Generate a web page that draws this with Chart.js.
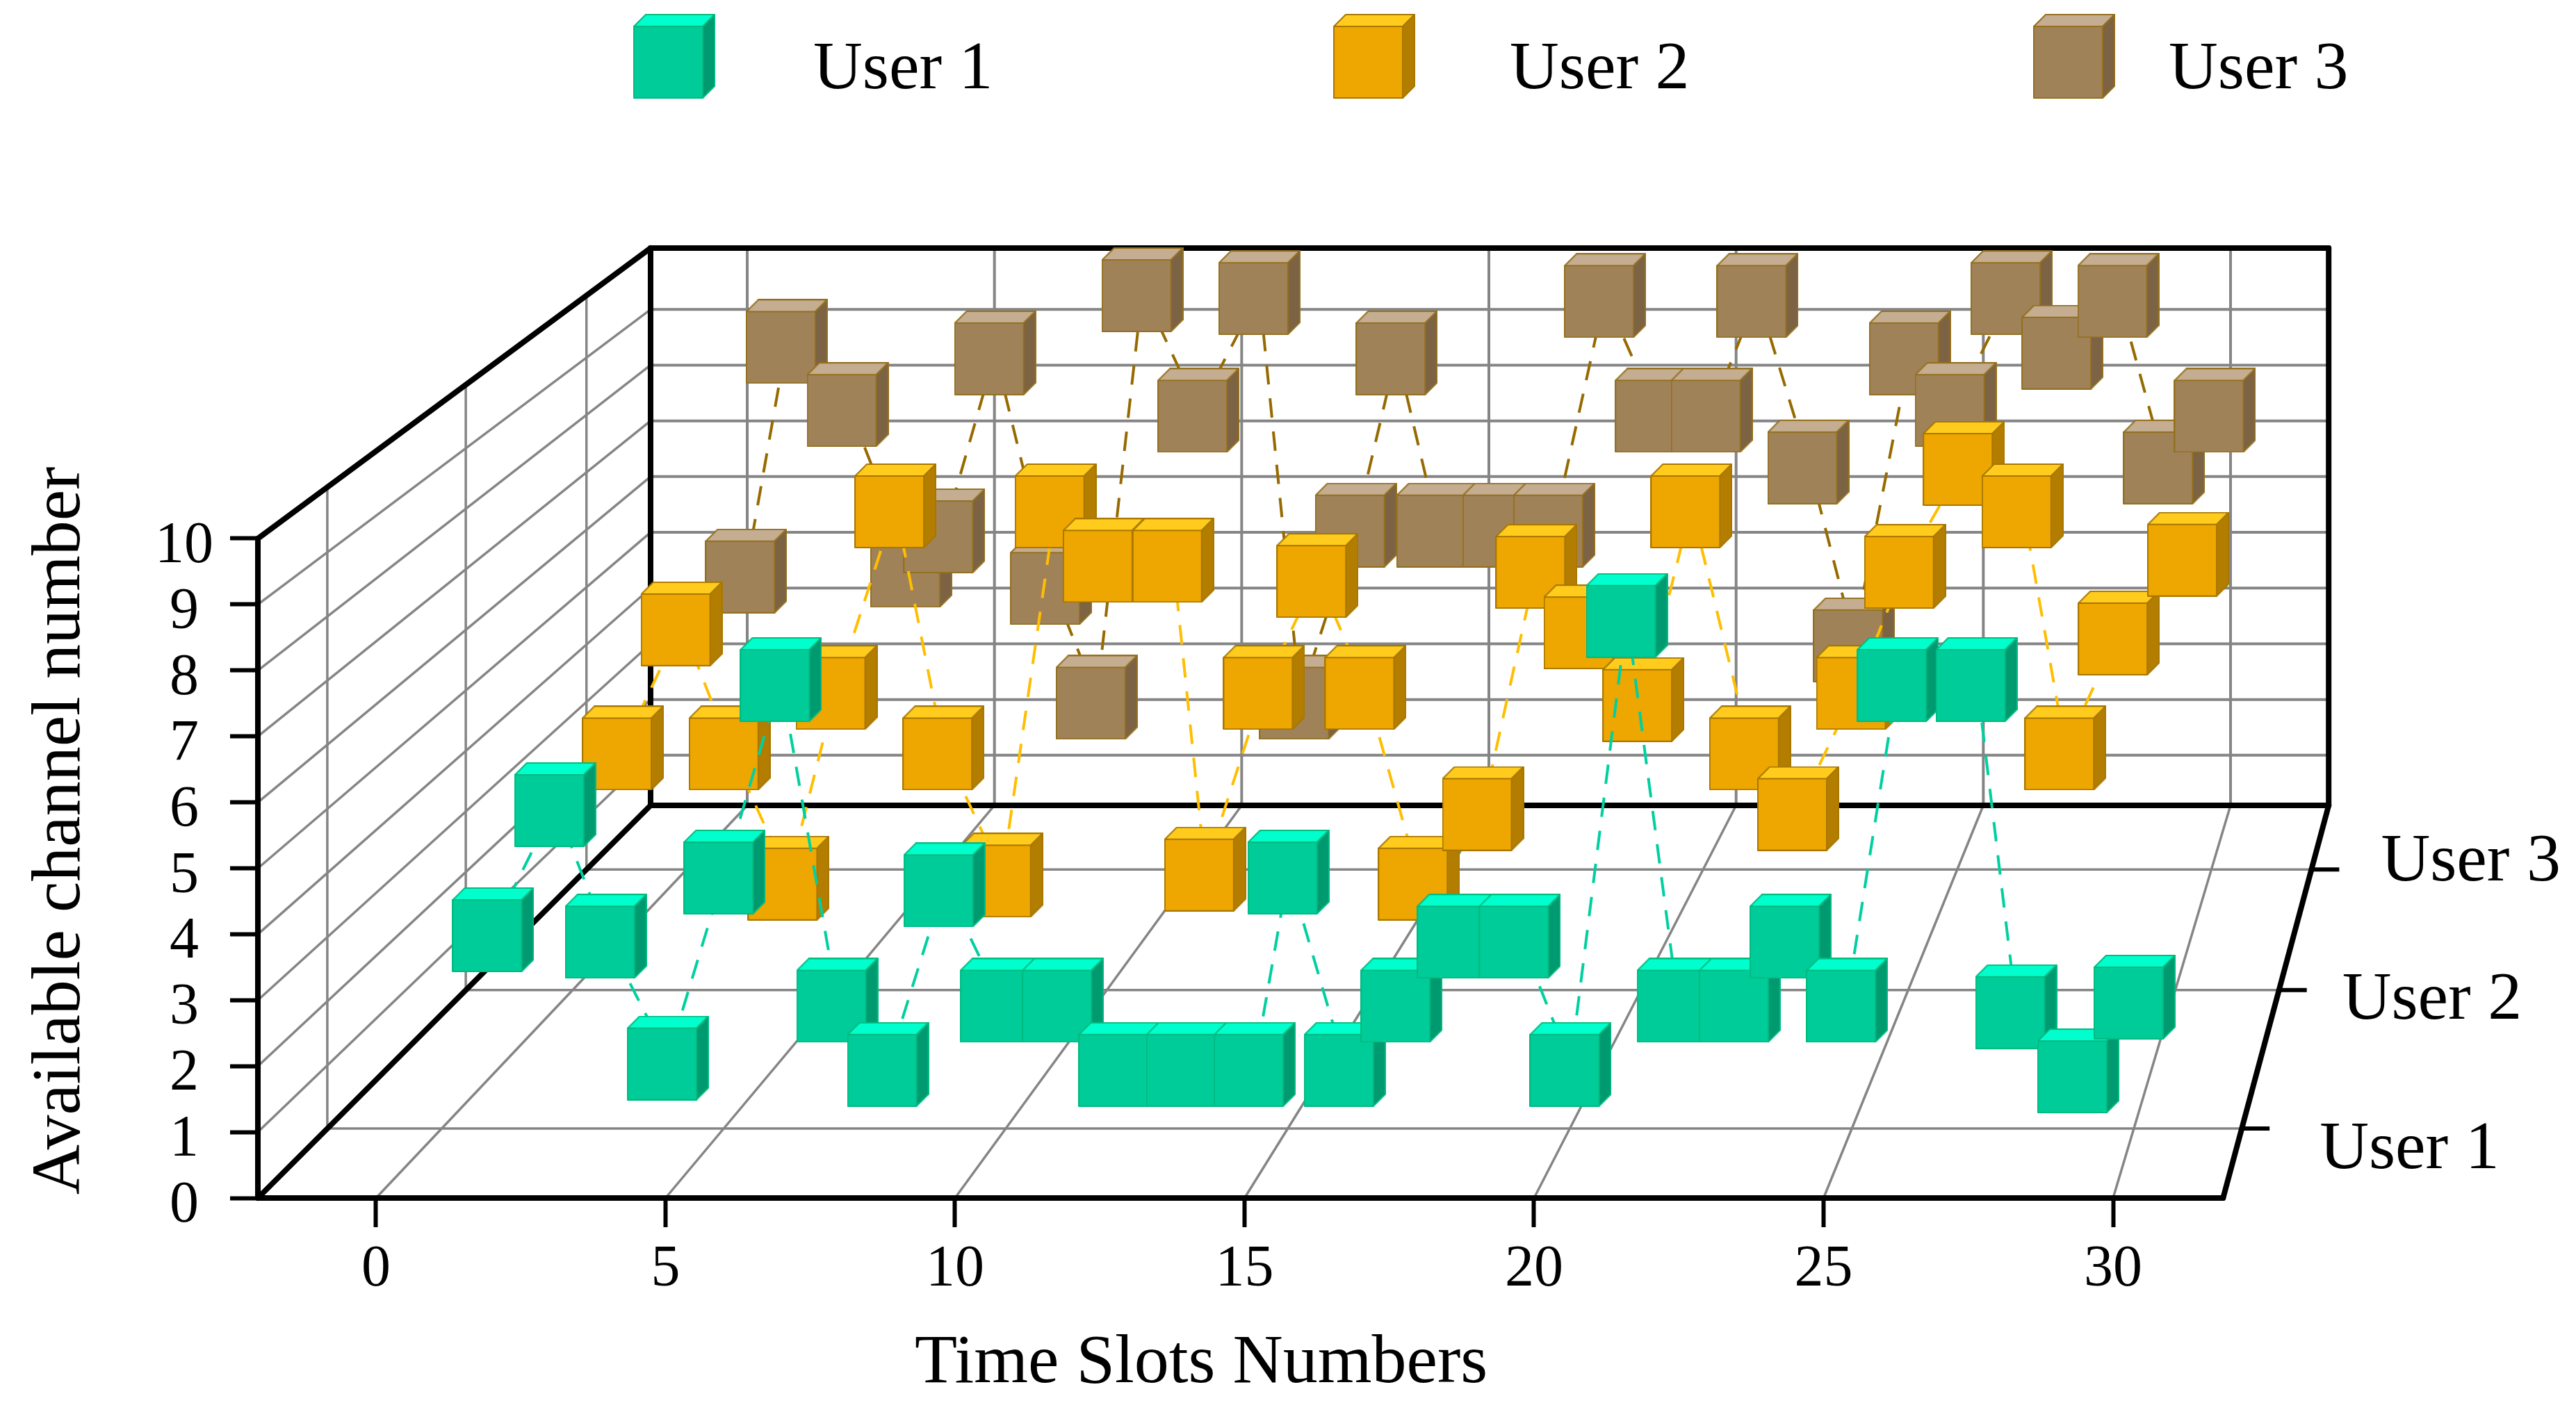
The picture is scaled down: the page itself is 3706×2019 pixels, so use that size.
<!DOCTYPE html>
<html>
<head>
<meta charset="utf-8">
<title>Channel allocation</title>
<script src="https://cdn.jsdelivr.net/npm/chart.js@4"></script>
<style>
  html, body { margin: 0; padding: 0; background: #fff; }
  canvas { display: block; }
</style>
</head>
<body>
<canvas id="grafico" width="3706" height="2019"></canvas>
<script>
const userNames = ["User 1", "User 2", "User 3"];
const xTicks = [0, 5, 10, 15, 20, 25, 30];
const yTicks = [0, 1, 2, 3, 4, 5, 6, 7, 8, 9, 10];

// depth of each user along the third axis (0 = front, 1 = back)
const userDepth = [0.155, 0.49, 0.814];

const slotsUser1 = [0.9, 2, 2.9, 4, 5, 6, 7, 7.9, 8.9, 9.9, 11, 12, 13.2, 14.4, 15, 16, 17, 18, 19.1, 20, 21, 21.9, 23, 23.9, 24.9, 25.8, 27.2, 27.9, 29, 30];
const channelsUser1 = [3.1, 5.05, 3, 1.1, 4, 7, 2, 1, 3.8, 2, 2, 1, 1, 1, 4, 1, 2, 3, 3, 1, 8, 2, 2, 3, 2, 7, 7, 1.9, 0.9, 2.05];

const slotsUser2 = [0.9, 2, 2.9, 4, 4.9, 6, 6.9, 8, 9, 9.9, 11.2, 11.8, 12.9, 13.9, 14.8, 15.8, 17, 18, 18.9, 20, 20.9, 22, 22.9, 24, 24.9, 26, 27.1, 27.9, 28.9, 30.2];
const channelsUser2 = [4, 6.05, 4, 1.85, 5, 8, 4, 1.9, 8, 7.1, 7.1, 2, 5, 6.85, 5, 1.85, 3, 7, 6, 4.8, 8, 4, 3, 5, 7, 8.7, 8, 4, 5.9, 7.2];

const slotsUser3 = [1.1, 1.9, 3.1, 4.35, 5, 6, 7.1, 8, 8.9, 10, 11.2, 12, 13.1, 13.9, 14.7, 16, 17, 18, 19, 20.1, 21, 22, 22.9, 24, 24.9, 26, 27, 28.1, 29, 30];
const channelsUser3 = [5.2, 9.2, 8.1, 5.3, 5.9, 9, 5, 3, 10.1, 8, 10.05, 3, 6, 9, 6, 6, 6, 10, 8, 8, 10, 7.1, 4, 9, 8.1, 10.05, 9.1, 10, 7.1, 8];

const FONT = "'Liberation Serif'";
Chart.defaults.font.family = FONT;
Chart.defaults.color = "#000";

// perspective of the box, in axis units of the front plane
const VANISH_X = 44.38;
const VANISH_Y = 40.75;
const X_LEFT = -2.04, X_RIGHT = 31.9;
const Y_TOP = 10;
// the grid on the back wall sits a little off the ticks
const BACK_SHIFT_T = -0.085, BACK_SHIFT_C = -0.1;

function projetar(t, c, d) {
  const s = 1 / (1 + 0.1711 * d);
  return {
    x: VANISH_X + (t - VANISH_X) * s,
    y: VANISH_Y * (1 - s) + c * s * (1 - 0.0104 * d)
  };
}

function gerarCubo(frente, topo, lado, borda) {
  const w = 99, h = 103, p = 17;
  const cv = document.createElement("canvas");
  cv.width = w + p + 2;
  cv.height = h + p + 2;
  const c = cv.getContext("2d");
  c.lineWidth = 2;
  c.lineJoin = "round";
  c.strokeStyle = borda;
  const face = (pts, cor) => {
    c.beginPath();
    pts.forEach((q, i) => i ? c.lineTo(q[0], q[1]) : c.moveTo(q[0], q[1]));
    c.closePath();
    c.fillStyle = cor;
    c.fill();
    c.stroke();
  };
  face([[1, p + 1], [p + 1, 1], [w + p + 1, 1], [w + 1, p + 1]], topo);
  face([[w + 1, p + 1], [w + p + 1, 1], [w + p + 1, h + 1], [w + 1, h + p + 1]], lado);
  face([[1, p + 1], [w + 1, p + 1], [w + 1, h + p + 1], [1, h + p + 1]], frente);
  return cv;
}

const cubos = [
  gerarCubo("#00CC99", "#00FFCC", "#009A70", "#00BB80"),
  gerarCubo("#EEA600", "#FFCC1E", "#B37D00", "#A87700"),
  gerarCubo("#A08259", "#C4AD90", "#7C6344", "#94701E")
];
const coresLinha = ["#00D0A0", "#FFBE00", "#966A00"];

function pontos(slots, canais, d) {
  return slots.map((t, i) => projetar(t, canais[i], d));
}

function serie(i, slots, canais) {
  return {
    label: userNames[i],
    data: pontos(slots, canais, userDepth[i]),
    showLine: true,
    borderColor: coresLinha[i],
    borderWidth: 4,
    borderDash: [28, 20],
    pointStyle: cubos[i],
    // image points ignore the radius, a big one keeps the ones behind the front plane from being culled
    pointRadius: 2000,
    clip: false
  };
}

// walls, floor, frame, depth axis and legend
const caixa3d = {
  id: "caixa3d",
  // points past the x max would be dropped from a sorted dataset
  beforeDatasetUpdate(chart, args) {
    chart.getDatasetMeta(args.index)._sorted = false;
  },
  beforeDatasetsDraw(chart) {
    const { ctx, scales: { x, y } } = chart;
    const linha = (a, b, cor, larg) => {
      ctx.beginPath();
      ctx.moveTo(x.getPixelForValue(a.x), y.getPixelForValue(a.y));
      ctx.lineTo(x.getPixelForValue(b.x), y.getPixelForValue(b.y));
      ctx.strokeStyle = cor;
      ctx.lineWidth = larg;
      ctx.stroke();
    };
    ctx.save();
    ctx.lineCap = "butt";
    const cinza = "#858585";
    xTicks.forEach(t => {
      const tb = t + BACK_SHIFT_T;
      linha(projetar(t, 0, 0), projetar(tb, 0, 1), cinza, 3.5);
      linha(projetar(tb, 0, 1), projetar(tb, Y_TOP, 1), cinza, 4);
    });
    yTicks.slice(1, -1).forEach(c => {
      const cb = c + BACK_SHIFT_C;
      linha(projetar(X_LEFT, c, 0), projetar(X_LEFT, cb, 1), cinza, 3.5);
      linha(projetar(X_LEFT, cb, 1), projetar(X_RIGHT, cb, 1), cinza, 4);
    });
    userDepth.forEach(d => {
      linha(projetar(X_LEFT, 0, d), projetar(X_RIGHT, 0, d), cinza, 3.5);
      linha(projetar(X_LEFT, 0, d), projetar(X_LEFT, Y_TOP, d), cinza, 3.5);
    });
    ctx.lineCap = "round";
    const preto = "#000";
    const fl = projetar(X_LEFT, 0, 0), fr = projetar(X_RIGHT, 0, 0);
    const bl = projetar(X_LEFT, 0, 1), br = projetar(X_RIGHT, 0, 1);
    const tf = projetar(X_LEFT, Y_TOP, 0), tl = projetar(X_LEFT, Y_TOP, 1), tr = projetar(X_RIGHT, Y_TOP, 1);
    [[fl, fr], [fr, br], [br, bl], [bl, fl], [fl, tf], [tf, tl], [tl, tr], [tr, br], [tl, bl]]
      .forEach(p => linha(p[0], p[1], preto, 8));

    // depth axis on the right edge
    const saltoLabel = [[72, 31], [51, 15], [60, -10]];
    userDepth.forEach((d, i) => {
      const p = projetar(X_RIGHT, 0, d);
      const px = x.getPixelForValue(p.x), py = y.getPixelForValue(p.y);
      ctx.beginPath();
      ctx.moveTo(px, py);
      ctx.lineTo(px + 40, py);
      ctx.strokeStyle = preto;
      ctx.lineWidth = 6;
      ctx.lineCap = "butt";
      ctx.stroke();
      ctx.fillStyle = preto;
      ctx.font = "98px " + FONT;
      ctx.textAlign = "left";
      ctx.textBaseline = "middle";
      ctx.fillText(userNames[i], px + 40 + saltoLabel[i][0], py + saltoLabel[i][1]);
    });

    // legend
    const legCubo = [970, 1977, 2984];
    const legTexto = [1170, 2172, 3120];
    chart.data.datasets.forEach((ds, i) => {
      ctx.drawImage(ds.pointStyle, legCubo[i] - ds.pointStyle.width / 2, 81 - ds.pointStyle.height / 2);
      ctx.fillStyle = preto;
      ctx.font = "98px " + FONT;
      ctx.textAlign = "left";
      ctx.textBaseline = "middle";
      ctx.fillText(ds.label, legTexto[i], 101);
    });
    ctx.restore();
  }
};

new Chart(document.getElementById("grafico"), {
  type: "scatter",
  data: {
    datasets: [
      serie(0, slotsUser1, channelsUser1),
      serie(1, slotsUser2, channelsUser2),
      serie(2, slotsUser3, channelsUser3)
    ]
  },
  plugins: [caixa3d],
  options: {
    responsive: false,
    animation: false,
    layout: { autoPadding: false, padding: { top: 667, right: 621, left: 0, bottom: 0 } },
    plugins: { legend: { display: false }, tooltip: { enabled: false } },
    scales: {
      x: {
        type: "linear",
        min: X_LEFT,
        max: 30.54,
        afterBuildTicks: s => { s.ticks = xTicks.map(v => ({ value: v })); },
        afterFit: s => { s.height = 295; },
        border: { display: false },
        grid: { drawOnChartArea: false, tickLength: 42, tickWidth: 6, tickColor: "#000" },
        ticks: { padding: 12, maxRotation: 0, font: { size: 84 }, callback: v => String(v) },
        title: { display: true, text: "Time Slots Numbers", font: { size: 100 }, padding: { top: 0, bottom: -4 } }
      },
      y: {
        type: "linear",
        min: 0,
        max: 11.138,
        afterBuildTicks: s => { s.ticks = yTicks.map(v => ({ value: v })); },
        afterFit: s => { s.width = 371; },
        border: { display: false },
        grid: { drawOnChartArea: false, tickLength: 40, tickWidth: 6, tickColor: "#000" },
        ticks: { padding: 24, crossAlign: "center", labelOffset: 12, font: { size: 84 }, callback: v => String(v) },
        title: { display: true, text: "Available channel number", font: { size: 100 }, padding: { top: 28, bottom: 0 } }
      }
    }
  }
});
</script>
</body>
</html>
